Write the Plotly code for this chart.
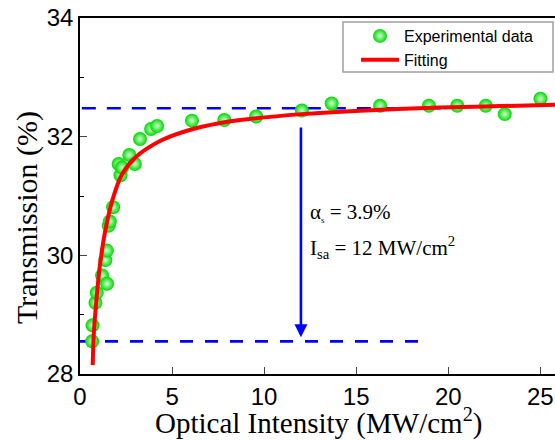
import plotly.graph_objects as go

# Experimental data (Optical intensity MW/cm^2, Transmission %)
exp_x = [0.66, 0.68, 0.84, 0.91, 1.20, 1.47, 1.38, 1.46, 1.56, 1.62, 1.80,
         2.20, 2.10, 2.29, 2.68, 2.98, 3.26, 3.86, 4.19, 6.08, 7.84, 9.57,
         12.05, 13.67, 16.30, 18.95, 20.49, 22.04, 23.07, 25.01]
exp_y = [28.55, 28.82, 29.20, 29.37, 29.66, 29.52, 29.92, 30.08, 30.50, 30.57, 30.81,
         31.35, 31.54, 31.48, 31.69, 31.54, 31.96, 32.13, 32.18, 32.27, 32.28, 32.34,
         32.44, 32.56, 32.52, 32.52, 32.52, 32.52, 32.38, 32.64]

# Fitting curve
fit_x = [0.69, 0.75, 0.89, 1.07, 1.34, 1.75, 2.29, 3.01, 4.37, 5.81, 7.62,
         9.25, 12.05, 14.67, 19.55, 22.8, 25.8]
fit_y = [28.15, 28.68, 29.24, 29.80, 30.36, 30.92, 31.37, 31.65, 31.93, 32.10, 32.23,
         32.30, 32.38, 32.43, 32.49, 32.515, 32.54]

# Reference levels and annotation values
upper_level = 32.48
lower_level = 28.55
upper_span = [0.1, 19.6]
lower_span = [0.0, 18.5]
arrow_x = 12.0
arrow_top = 32.18
arrow_tip = 28.62

x_ticks = [0, 5, 10, 15, 20, 25]
y_ticks = [28, 30, 32, 34]

fig = go.Figure()

fig.add_trace(go.Scatter(
    x=upper_span, y=[upper_level, upper_level], mode="lines",
    line=dict(color="#0000ff", width=2.6, dash="14px,11px"),
    showlegend=False, hoverinfo="skip"))
fig.add_trace(go.Scatter(
    x=lower_span, y=[lower_level, lower_level], mode="lines",
    line=dict(color="#0000ff", width=2.6, dash="13px,12px"),
    showlegend=False, hoverinfo="skip"))

fig.add_trace(go.Scatter(
    x=exp_x, y=exp_y, mode="markers", name="Experimental data",
    marker=dict(size=14, color="#00d800",
                gradient=dict(type="radial", color="#d0ffd0"),
                line=dict(width=0))))

fig.add_trace(go.Scatter(
    x=fit_x, y=fit_y, mode="lines", name="Fitting", line_shape="spline",
    line=dict(color="#ff0000", width=4)))

fig.add_annotation(
    x=arrow_x, y=arrow_tip, ax=arrow_x, ay=arrow_top, axref="x", ayref="y",
    xref="x", yref="y", text="", showarrow=True, arrowhead=2, arrowsize=1.0,
    arrowwidth=2.6, arrowcolor="#0000ff", standoff=0, startstandoff=0)

fig.add_annotation(
    x=12.39, y=30.73, xref="x", yref="y", xanchor="left", yanchor="middle",
    text="α<sub><span style='font-size:9px'>s</span></sub> = 3.9%",
    showarrow=False, font=dict(family="Liberation Serif", size=21, color="black"))
fig.add_annotation(
    x=12.39, y=30.13, xref="x", yref="y", xanchor="left", yanchor="middle",
    text="I<sub>sa</sub> = 12 MW/cm<sup>2</sup>",
    showarrow=False, font=dict(family="Liberation Serif", size=21, color="black"))

# axis titles
fig.add_annotation(
    x=(318 - 80) / 475, y=(374 - 421) / 356, xref="paper", yref="paper",
    xanchor="center", yanchor="middle", showarrow=False,
    text="Optical Intensity (MW/cm<sup>2</sup>)",
    font=dict(family="Liberation Serif", size=29, color="black"))
fig.add_annotation(
    x=(27 - 80) / 475, y=(374 - 218) / 356, xref="paper", yref="paper",
    xanchor="center", yanchor="middle", showarrow=False, textangle=-90,
    text="Transmission (%)",
    font=dict(family="Liberation Serif", size=30, color="black"))

# legend box
fig.add_shape(type="rect", xref="paper", yref="paper",
              x0=(343 - 80) / 475, x1=(553 - 80) / 475,
              y0=(374 - 72) / 356, y1=(374 - 22) / 356,
              line=dict(color="#a0a0a0", width=1.5), fillcolor="white", layer="above")

fig.update_layout(
    width=555, height=440,
    margin=dict(l=80, r=0, t=18, b=66, autoexpand=False),
    paper_bgcolor="white", plot_bgcolor="white",
    showlegend=True,
    legend=dict(x=(356 - 80) / 475, y=(374 - 19) / 356, xanchor="left", yanchor="top",
                bgcolor="rgba(0,0,0,0)", borderwidth=0, itemwidth=38,
                font=dict(family="Liberation Sans", size=16, color="black")),
)

fig.update_xaxes(
    range=[0, 25.8], tickvals=x_ticks, ticks="inside", ticklen=7, tickwidth=1.2,
    showline=True, linecolor="black", linewidth=1.5, mirror=True, showgrid=False,
    zeroline=False, automargin=False,
    tickfont=dict(family="Liberation Sans", size=24, color="black"))

fig.update_yaxes(
    range=[28, 34], tickvals=y_ticks, ticks="inside", ticklen=7, tickwidth=1.2,
    minor=dict(dtick=1, ticks="inside", ticklen=4, tickwidth=1.2, tickcolor="black"),
    showline=True, linecolor="black", linewidth=1.5, mirror=False, showgrid=False,
    zeroline=False, automargin=False,
    tickfont=dict(family="Liberation Sans", size=24, color="black"))

fig.write_html("out.html", config={"displayModeBar": False},
               post_script="document.body.style.margin='0';document.body.style.overflow='hidden';")
